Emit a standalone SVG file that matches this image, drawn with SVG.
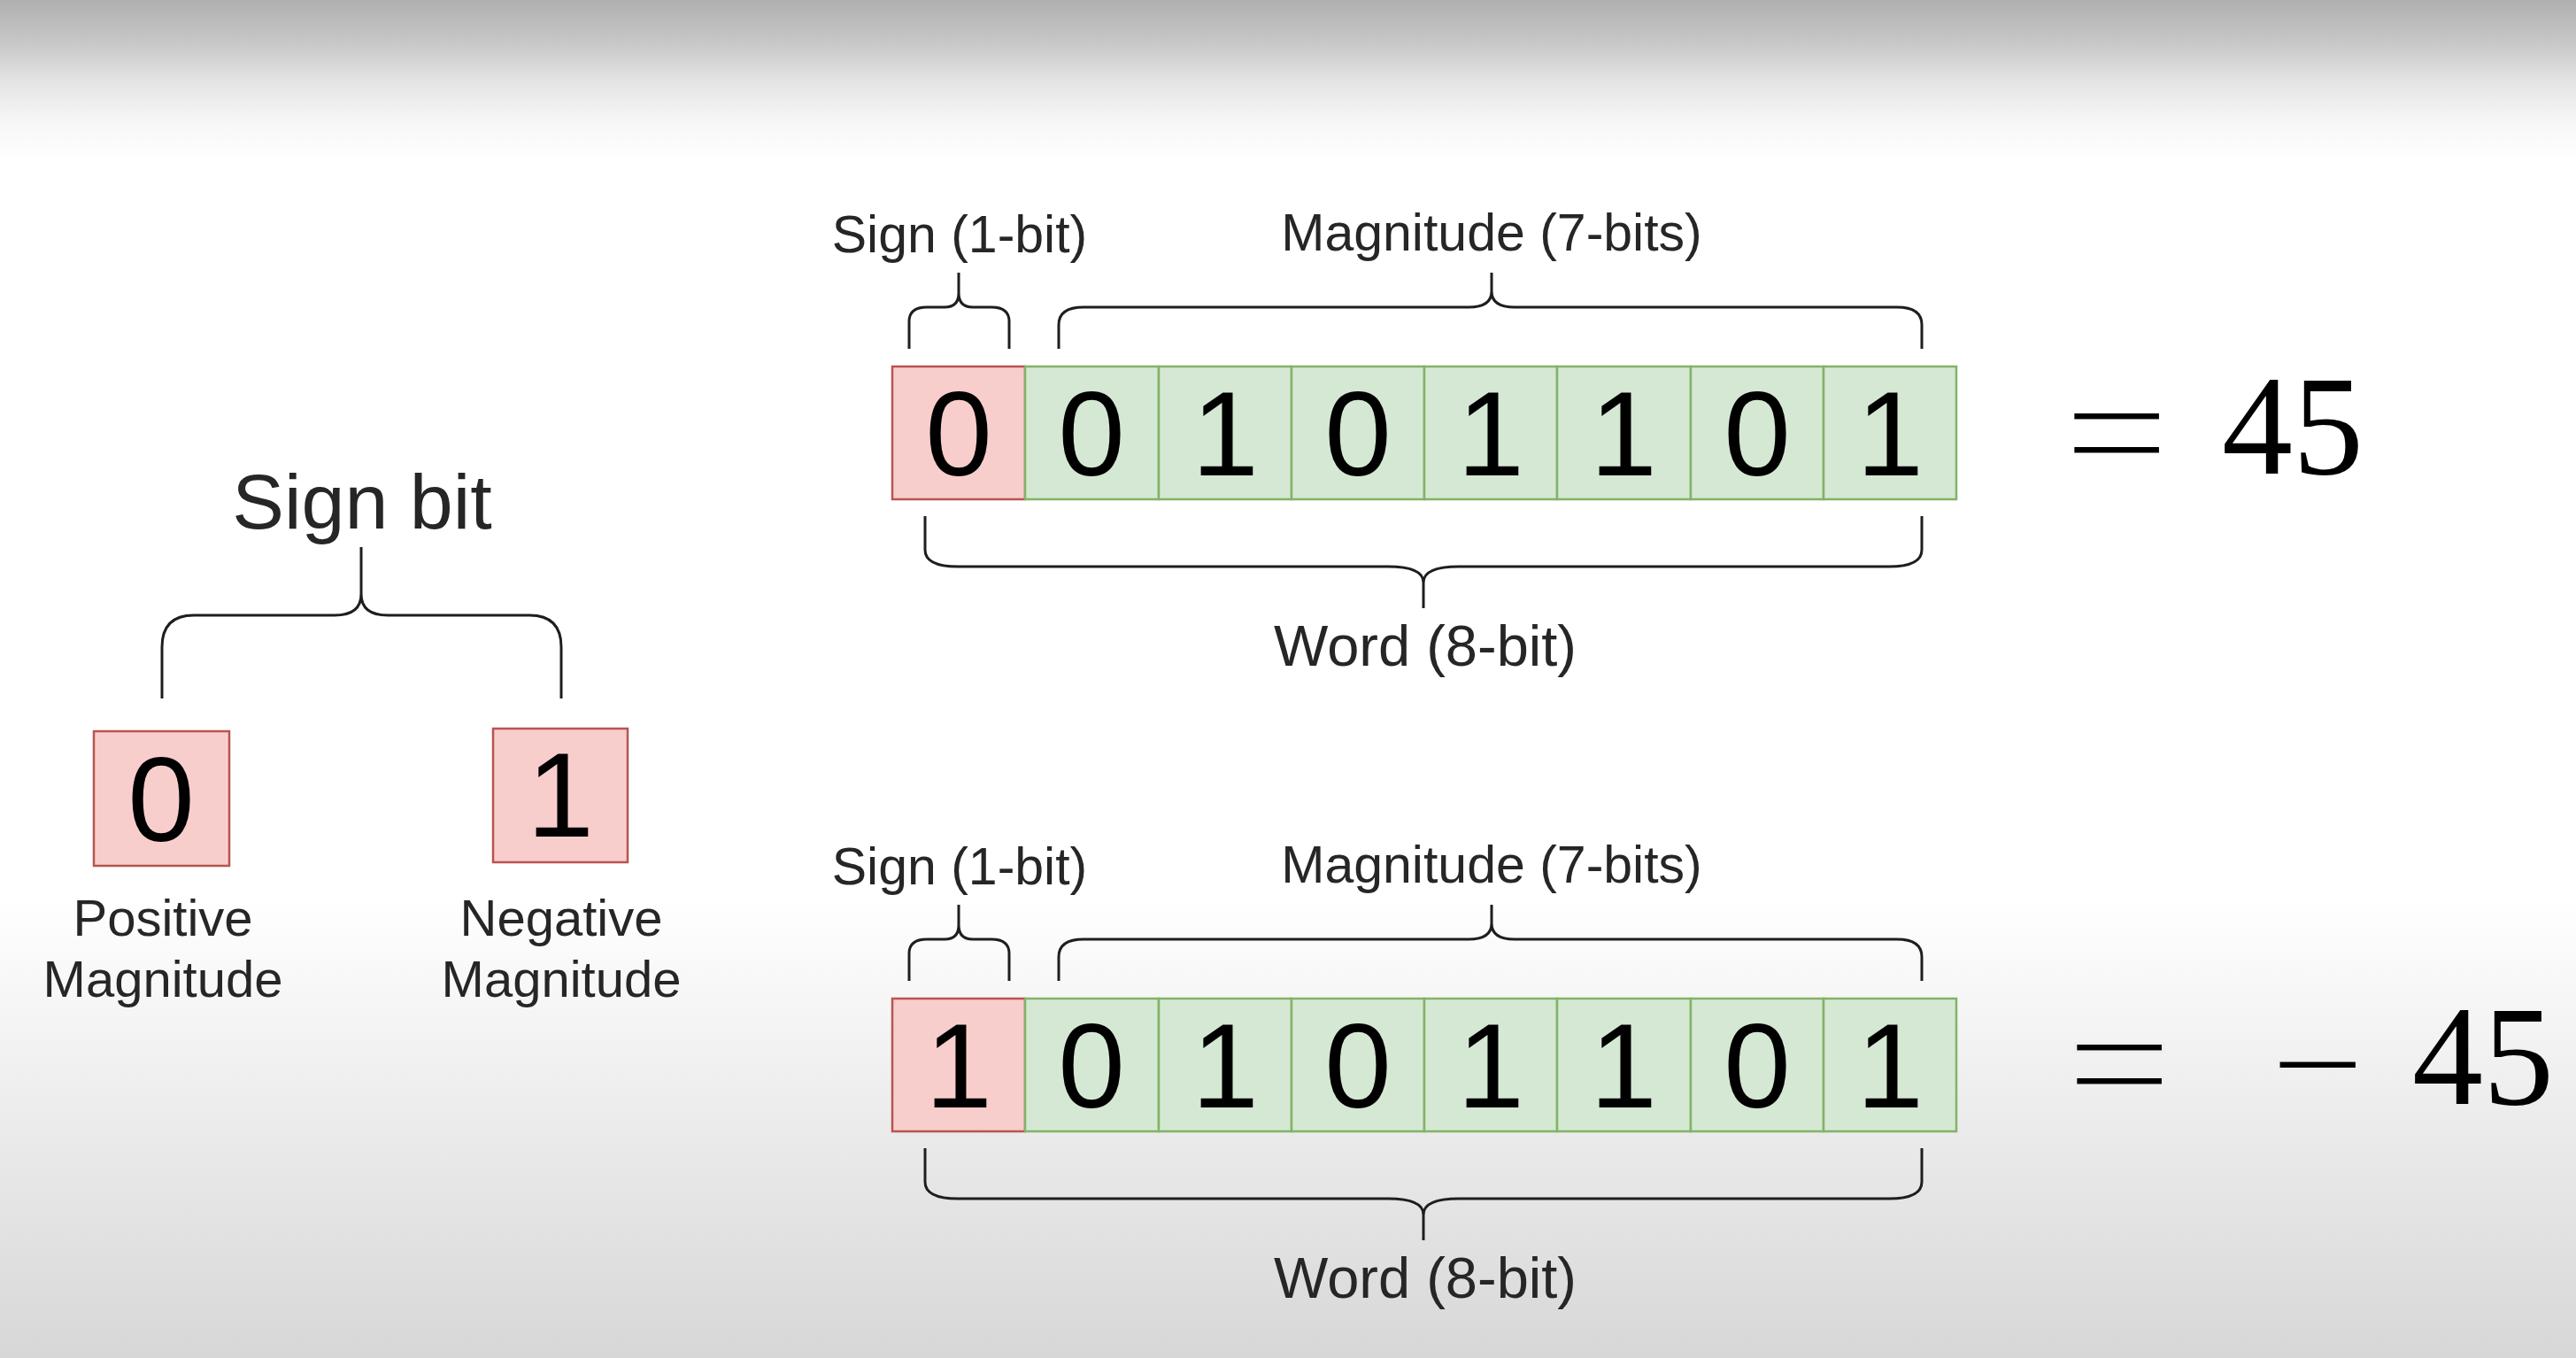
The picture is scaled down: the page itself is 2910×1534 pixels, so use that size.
<svg xmlns="http://www.w3.org/2000/svg" width="2910" height="1534" viewBox="0 0 2910 1534">
<defs>
<linearGradient id="bg" x1="0" y1="0" x2="0" y2="1">
<stop offset="0" stop-color="#b0b0b0"/>
<stop offset="0.03" stop-color="#c6c6c6"/>
<stop offset="0.06" stop-color="#e4e4e4"/>
<stop offset="0.09" stop-color="#f7f7f7"/>
<stop offset="0.12" stop-color="#ffffff"/>
<stop offset="0.66" stop-color="#ffffff"/>
<stop offset="0.78" stop-color="#f1f1f1"/>
<stop offset="0.88" stop-color="#e5e5e5"/>
<stop offset="1" stop-color="#d7d7d7"/>
</linearGradient>
<style>
.lbl{font-family:"Liberation Sans",Arial,sans-serif;fill:#262626;text-anchor:middle}
.dig{font-family:"Liberation Sans",Arial,sans-serif;font-size:136px;fill:#000;text-anchor:middle}
.math{font-family:"Liberation Serif","Times New Roman",serif;fill:#000;text-anchor:middle}
.thin{stroke-width:3px}
.brace{fill:none;stroke:#1e1e1e;stroke-width:3;stroke-linecap:butt}
.pink{fill:#f8cecc;stroke:#b85450;stroke-width:2.5}
.green{fill:#d5e8d4;stroke:#82b366;stroke-width:2.5}
</style>
</defs>
<rect x="0" y="0" width="2910" height="1534" fill="url(#bg)"/>

<g id="connectors">
<path class="brace" d="M183 789 V731 Q183 695 219 695 H378 Q408 695 408 671 V618 M408 671 Q408 695 438 695 H598 Q634 695 634 731 V789"/>
<path class="brace" d="M1027 394 V363 Q1027 347 1047 347 H1067 Q1083 347 1083 331 V308 M1083 331 Q1083 347 1099 347 H1120 Q1140 347 1140 363 V394"/>
<path class="brace" d="M1196 394 V367 Q1196 347 1224 347 H1659 Q1685 347 1685 329 V308 M1685 329 Q1685 347 1711 347 H2143 Q2171 347 2171 367 V394"/>
<path class="brace" d="M1045 583 V621 Q1045 640 1082 640 H1568 Q1608 640 1608 658 V687 M1608 658 Q1608 640 1648 640 H2134 Q2171 640 2171 621 V583"/>
<path class="brace" d="M1027 1108 V1077 Q1027 1061 1047 1061 H1067 Q1083 1061 1083 1045 V1022 M1083 1045 Q1083 1061 1099 1061 H1120 Q1140 1061 1140 1077 V1108"/>
<path class="brace" d="M1196 1108 V1081 Q1196 1061 1224 1061 H1659 Q1685 1061 1685 1043 V1022 M1685 1043 Q1685 1061 1711 1061 H2143 Q2171 1061 2171 1081 V1108"/>
<path class="brace" d="M1045 1297 V1335 Q1045 1354 1082 1354 H1568 Q1608 1354 1608 1372 V1401 M1608 1372 Q1608 1354 1648 1354 H2134 Q2171 1354 2171 1335 V1297"/>
</g>

<g id="sign-bit-title"><text class="lbl" x="409" y="597" font-size="88">Sign bit</text></g>
<g id="box-positive"><rect class="pink" x="106" y="826" width="153" height="152"/><text class="dig" x="182" y="950">0</text></g>
<g id="box-negative"><rect class="pink" x="557" y="823" width="152" height="151"/><text class="dig" x="633" y="945">1</text></g>
<g id="label-positive"><text class="lbl" font-size="58"><tspan x="184" y="1057">Positive</tspan><tspan x="184" y="1126">Magnitude</tspan></text></g>
<g id="label-negative"><text class="lbl" font-size="58"><tspan x="634" y="1057">Negative</tspan><tspan x="634" y="1126">Magnitude</tspan></text></g>

<g id="top-sign-label"><text class="lbl" x="1084" y="285" font-size="59">Sign (1-bit)</text></g>
<g id="top-magnitude-label"><text class="lbl" x="1685" y="283" font-size="59">Magnitude (7-bits)</text></g>
<g id="top-word-label"><text class="lbl" x="1610" y="752" font-size="65">Word (8-bit)</text></g>

<g id="top-row">
<g id="t0"><rect class="pink" x="1008" y="414" width="150" height="150"/><text class="dig" x="1083" y="537">0</text></g>
<g id="t1"><rect class="green" x="1158" y="414" width="151" height="150"/><text class="dig" x="1233" y="537">0</text></g>
<g id="t2"><rect class="green" x="1309" y="414" width="150" height="150"/><text class="dig" x="1384" y="537">1</text></g>
<g id="t3"><rect class="green" x="1459" y="414" width="150" height="150"/><text class="dig" x="1534" y="537">0</text></g>
<g id="t4"><rect class="green" x="1609" y="414" width="150" height="150"/><text class="dig" x="1684" y="537">1</text></g>
<g id="t5"><rect class="green" x="1759" y="414" width="151" height="150"/><text class="dig" x="1834" y="537">1</text></g>
<g id="t6"><rect class="green" x="1910" y="414" width="150" height="150"/><text class="dig" x="1985" y="537">0</text></g>
<g id="t7"><rect class="green" x="2060" y="414" width="150" height="150"/><text class="dig" x="2135" y="537">1</text></g>
</g>
<g id="top-value"><text class="math thin" x="2391" y="553" font-size="190" stroke="#ffffff" textLength="120" lengthAdjust="spacingAndGlyphs">=</text><text class="math" x="2590" y="535" font-size="160">45</text></g>

<g id="bottom-sign-label"><text class="lbl" x="1084" y="999" font-size="59">Sign (1-bit)</text></g>
<g id="bottom-magnitude-label"><text class="lbl" x="1685" y="997" font-size="59">Magnitude (7-bits)</text></g>
<g id="bottom-word-label"><text class="lbl" x="1610" y="1466" font-size="65">Word (8-bit)</text></g>

<g id="bottom-row">
<g id="b0"><rect class="pink" x="1008" y="1128" width="150" height="150"/><text class="dig" x="1083" y="1251">1</text></g>
<g id="b1"><rect class="green" x="1158" y="1128" width="151" height="150"/><text class="dig" x="1233" y="1251">0</text></g>
<g id="b2"><rect class="green" x="1309" y="1128" width="150" height="150"/><text class="dig" x="1384" y="1251">1</text></g>
<g id="b3"><rect class="green" x="1459" y="1128" width="150" height="150"/><text class="dig" x="1534" y="1251">0</text></g>
<g id="b4"><rect class="green" x="1609" y="1128" width="150" height="150"/><text class="dig" x="1684" y="1251">1</text></g>
<g id="b5"><rect class="green" x="1759" y="1128" width="151" height="150"/><text class="dig" x="1834" y="1251">1</text></g>
<g id="b6"><rect class="green" x="1910" y="1128" width="150" height="150"/><text class="dig" x="1985" y="1251">0</text></g>
<g id="b7"><rect class="green" x="2060" y="1128" width="150" height="150"/><text class="dig" x="2135" y="1251">1</text></g>
</g>
<g id="bottom-value"><text class="math thin" x="2394" y="1266" font-size="190" stroke="#efefef" textLength="120" lengthAdjust="spacingAndGlyphs">=</text><text class="math thin" x="2618" y="1266" font-size="190" stroke="#efefef">−</text><text class="math" x="2805" y="1247" font-size="160">45</text></g>
</svg>
